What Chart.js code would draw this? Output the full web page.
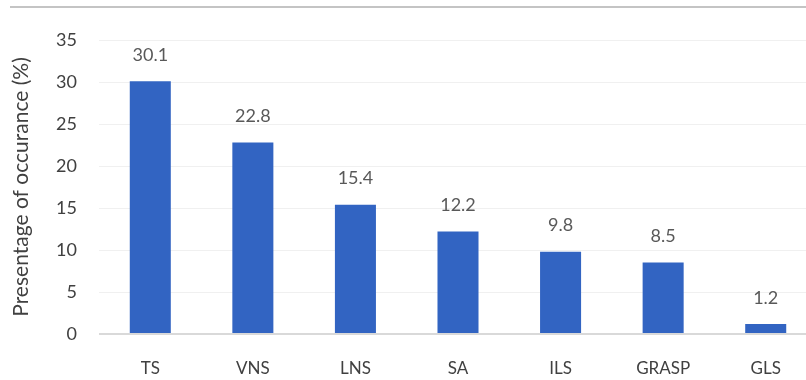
<!DOCTYPE html>
<html>
<head>
<meta charset="utf-8">
<script src="https://cdn.jsdelivr.net/npm/chart.js@4/dist/chart.umd.min.js"></script>
<style>
  html, body { margin: 0; padding: 0; background: #fff; overflow: hidden; width: 806px; height: 380px; }
  #topline { position: absolute; left: 10px; top: 6px; width: 796px; height: 0; border-top: 2px solid #c4c4c4; }
  #wrap { position: absolute; left: 0; top: 0; width: 818px; height: 380px; }
</style>
</head>
<body>
<div id="topline"></div>
<div id="wrap"><canvas id="c" width="818" height="380"></canvas></div>
<script>
const categories = ["TS", "VNS", "LNS", "SA", "ILS", "GRASP", "GLS"];
const values = [30.1, 22.8, 15.4, 12.2, 9.8, 8.5, 1.2];
const yTicks = [0, 5, 10, 15, 20, 25, 30, 35];
const yTitle = "Presentage of occurance (%)";

const FONT = "Lato, 'Open Sans', 'Liberation Sans', sans-serif";

const valueLabels = {
  id: 'valueLabels',
  afterDatasetsDraw(chart) {
    const ctx = chart.ctx;
    const meta = chart.getDatasetMeta(0);
    ctx.save();
    ctx.font = "18px " + FONT;
    ctx.fillStyle = "#595959";
    ctx.textAlign = "center";
    ctx.textBaseline = "bottom";
    meta.data.forEach((bar, i) => {
      ctx.fillText(values[i].toFixed(1), bar.x, bar.y - 17);
    });
    ctx.restore();
  }
};

new Chart(document.getElementById('c'), {
  type: 'bar',
  data: {
    labels: categories,
    datasets: [{
      data: values,
      backgroundColor: '#3264c2',
      borderWidth: 0,
      barPercentage: 0.4,
      categoryPercentage: 1.0
    }]
  },
  options: {
    responsive: false,
    animation: false,
    devicePixelRatio: 1,
    layout: { padding: { top: 40, right: 1, bottom: 0, left: 0 } },
    plugins: { legend: { display: false }, tooltip: { enabled: false } },
    scales: {
      x: {
        grid: { display: false, drawTicks: false },
        border: { display: false },
        ticks: { color: '#404040', font: { family: FONT, size: 17 }, padding: 24 },
        afterFit(s) { s.height = 46; }
      },
      y: {
        min: 0, max: 35,
        afterBuildTicks(s) { s.ticks = yTicks.map(v => ({ value: v })); },
        grid: {
          drawTicks: false,
          color: ctx => ctx.tick && ctx.tick.value === 0 ? '#d9d9d9' : '#f0f0f0',
          lineWidth: ctx => ctx.tick && ctx.tick.value === 0 ? 2 : 1
        },
        border: { display: false },
        ticks: { color: '#404040', font: { family: FONT, size: 18 }, padding: 22 },
        title: {
          display: true, text: yTitle, color: '#404040',
          font: { family: FONT, size: 21 }, padding: { top: 9, bottom: 0 }
        },
        afterFit(s) { s.width = 99; }
      }
    }
  },
  plugins: [valueLabels]
});
</script>
</body>
</html>
